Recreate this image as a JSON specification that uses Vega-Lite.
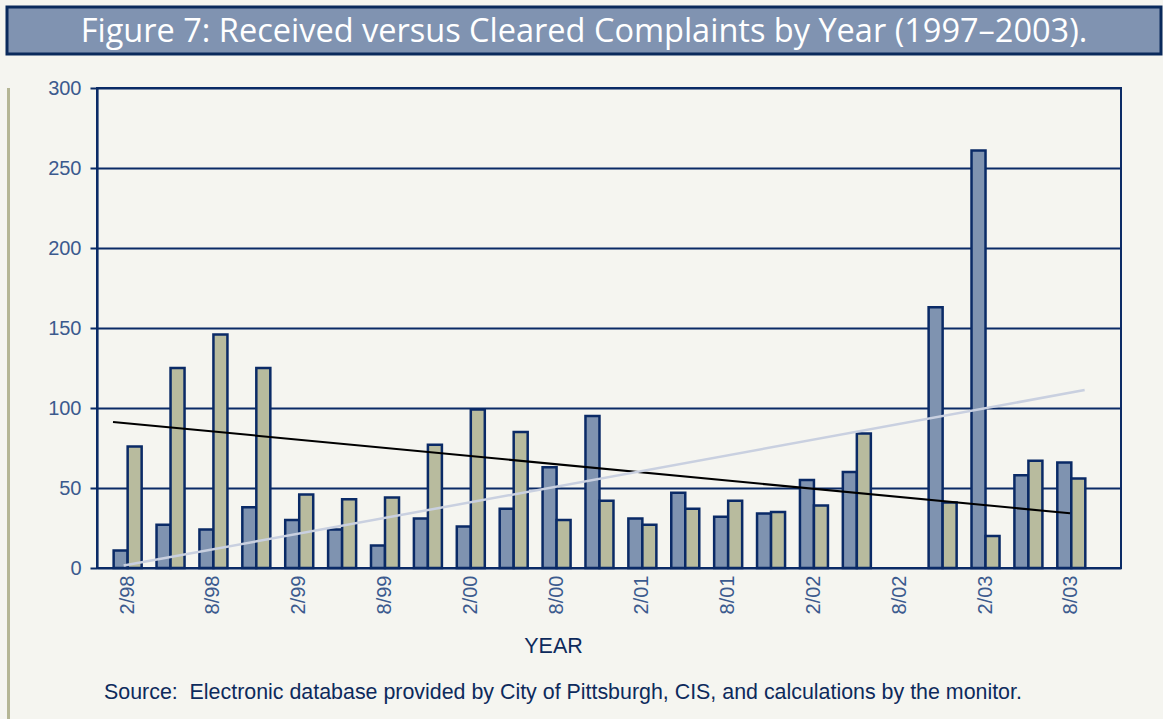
{
  "$schema": "https://vega.github.io/schema/vega-lite/v6.json",
  "background": "#f5f5f0",
  "padding": {"left": 5, "top": 5, "right": 0, "bottom": 0},
  "spacing": 21,
  "config": {"font": "Liberation Sans", "view": {"stroke": null}},
  "vconcat": [
    {
      "width": 1154,
      "height": 47,
      "view": {"fill": "#8093b1", "stroke": "#0a2a5c", "strokeWidth": 3},
      "data": {"values": [{"title": "Figure 7: Received versus Cleared Complaints by Year (1997–2003)."}]},
      "mark": {"type": "text", "font": "Open Sans", "fontSize": 32.5, "color": "#ffffff", "align": "center", "baseline": "middle", "dy": 1},
      "encoding": {"text": {"field": "title", "type": "nominal"}}
    },
    {
      "spacing": 0,
      "hconcat": [
        {
          "width": 3,
          "height": 631,
          "view": {"fill": "#b5b695", "stroke": null},
          "data": {"values": []},
          "mark": "point",
          "encoding": {}
        },
        {
          "width": 1024,
          "height": 480,
          "view": {"stroke": "#0b2b66", "strokeWidth": 2, "fill": "#f5f5f0"},
          "title": {
            "text": "Source:\u00a0 Electronic database provided by City of Pittsburgh, CIS, and calculations by the monitor.",
            "orient": "bottom", "anchor": "start", "frame": "group", "dx": 7, "offset": 25,
            "fontSize": 21.4, "font": "Liberation Sans", "fontWeight": "normal", "color": "#0d2a5c"
          },
          "resolve": {"scale": {"x": "independent"}},
          "layer": [
            {
              "data": {"values": [
                {"period": "2/98", "series": "Received", "value": 11}, {"period": "2/98", "series": "Cleared", "value": 76},
                {"period": "5/98", "series": "Received", "value": 27}, {"period": "5/98", "series": "Cleared", "value": 125},
                {"period": "8/98", "series": "Received", "value": 24}, {"period": "8/98", "series": "Cleared", "value": 146},
                {"period": "11/98", "series": "Received", "value": 38}, {"period": "11/98", "series": "Cleared", "value": 125},
                {"period": "2/99", "series": "Received", "value": 30}, {"period": "2/99", "series": "Cleared", "value": 46},
                {"period": "5/99", "series": "Received", "value": 24}, {"period": "5/99", "series": "Cleared", "value": 43},
                {"period": "8/99", "series": "Received", "value": 14}, {"period": "8/99", "series": "Cleared", "value": 44},
                {"period": "11/99", "series": "Received", "value": 31}, {"period": "11/99", "series": "Cleared", "value": 77},
                {"period": "2/00", "series": "Received", "value": 26}, {"period": "2/00", "series": "Cleared", "value": 99},
                {"period": "5/00", "series": "Received", "value": 37}, {"period": "5/00", "series": "Cleared", "value": 85},
                {"period": "8/00", "series": "Received", "value": 63}, {"period": "8/00", "series": "Cleared", "value": 30},
                {"period": "11/00", "series": "Received", "value": 95}, {"period": "11/00", "series": "Cleared", "value": 42},
                {"period": "2/01", "series": "Received", "value": 31}, {"period": "2/01", "series": "Cleared", "value": 27},
                {"period": "5/01", "series": "Received", "value": 47}, {"period": "5/01", "series": "Cleared", "value": 37},
                {"period": "8/01", "series": "Received", "value": 32}, {"period": "8/01", "series": "Cleared", "value": 42},
                {"period": "11/01", "series": "Received", "value": 34}, {"period": "11/01", "series": "Cleared", "value": 35},
                {"period": "2/02", "series": "Received", "value": 55}, {"period": "2/02", "series": "Cleared", "value": 39},
                {"period": "5/02", "series": "Received", "value": 60}, {"period": "5/02", "series": "Cleared", "value": 84},
                {"period": "11/02", "series": "Received", "value": 163}, {"period": "11/02", "series": "Cleared", "value": 41},
                {"period": "2/03", "series": "Received", "value": 261}, {"period": "2/03", "series": "Cleared", "value": 20},
                {"period": "5/03", "series": "Received", "value": 58}, {"period": "5/03", "series": "Cleared", "value": 67},
                {"period": "8/03", "series": "Received", "value": 66}, {"period": "8/03", "series": "Cleared", "value": 56}
              ]},
              "mark": {"type": "bar", "stroke": "#0a2a66", "strokeWidth": 2.5},
              "encoding": {
                "x": {
                  "field": "period", "type": "ordinal", "sort": null,
                  "scale": {
                    "domain": ["2/98","5/98","8/98","11/98","2/99","5/99","8/99","11/99","2/00","5/00","8/00","11/00","2/01","5/01","8/01","11/01","2/02","5/02","8/02","11/02","2/03","5/03","8/03"],
                    "paddingInner": 0.347, "paddingOuter": 0.61, "align": 0.318
                  },
                  "axis": {
                    "values": ["2/98","8/98","2/99","8/99","2/00","8/00","2/01","8/01","2/02","8/02","2/03","8/03"],
                    "title": "YEAR", "labelAngle": 270, "labelFont": "Liberation Sans", "labelFontSize": 20,
                    "labelColor": "#3b5a8e", "labelPadding": 7, "ticks": false, "domain": false, "grid": false,
                    "titleFont": "Liberation Sans", "titleFontSize": 21.5, "titleColor": "#0d2a5c", "titleFontWeight": "normal",
                    "titleX": 456, "titleY": 84, "titleBaseline": "alphabetic", "titleAlign": "center"
                  }
                },
                "xOffset": {"field": "series", "type": "nominal", "scale": {"domain": ["Received", "Cleared"], "paddingInner": 0, "paddingOuter": 0}},
                "y": {
                  "field": "value", "type": "quantitative",
                  "scale": {"domain": [0, 300], "nice": false},
                  "axis": {
                    "values": [0, 50, 100, 150, 200, 250, 300], "title": null, "grid": true,
                    "gridColor": "#0b2b66", "gridWidth": 2.2, "gridOpacity": 1,
                    "domainColor": "#0b2b66", "domainWidth": 2.2, "tickColor": "#0b2b66", "tickWidth": 2, "tickSize": 7,
                    "labelFont": "Liberation Sans", "labelFontSize": 20, "labelColor": "#3b5a8e", "labelPadding": 9,
                    "minExtent": 85.5, "maxExtent": 85.5
                  }
                },
                "color": {"field": "series", "type": "nominal", "scale": {"domain": ["Received", "Cleared"], "range": ["#7f93b0", "#b8bb9e"]}, "legend": null}
              }
            },
            {
              "data": {"values": [{"idx": 1, "trend": 91.3}, {"idx": 23, "trend": 34.2}]},
              "mark": {"type": "line", "color": "#000000", "strokeWidth": 2},
              "encoding": {
                "x": {"field": "idx", "type": "quantitative", "scale": {"domain": [0.632, 24.172], "nice": false, "zero": false}, "axis": null},
                "y": {"field": "trend", "type": "quantitative", "title": null}
              }
            },
            {
              "data": {"values": [{"idx": 1, "trend": 1.5}, {"idx": 23, "trend": 111.2}]},
              "mark": {"type": "line", "color": "#c9d0e0", "strokeWidth": 2.5},
              "encoding": {
                "x": {"field": "idx", "type": "quantitative", "scale": {"domain": [0.389, 23.832], "nice": false, "zero": false}, "axis": null},
                "y": {"field": "trend", "type": "quantitative", "title": null}
              }
            }
          ]
        }
      ]
    }
  ]
}
